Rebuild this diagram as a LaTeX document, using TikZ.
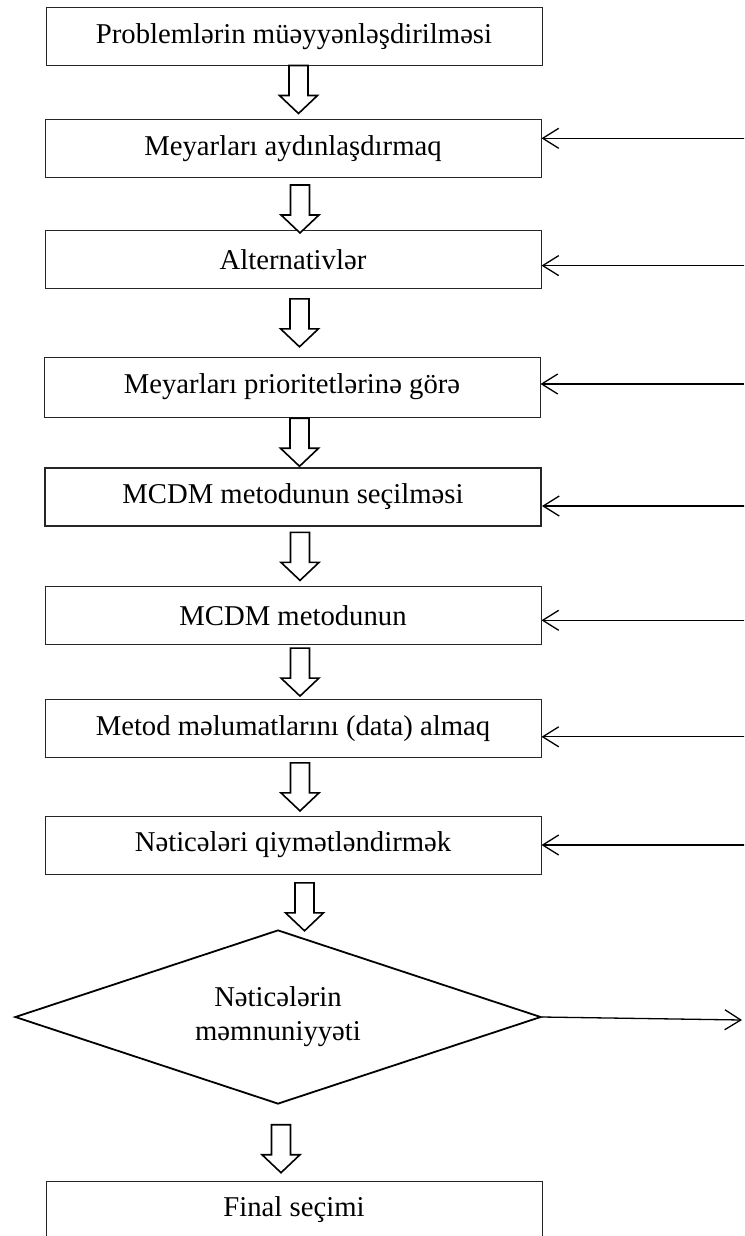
\documentclass[tikz,border=0pt]{standalone}
\usepackage{fontspec}
\setmainfont{Liberation Serif}
\usetikzlibrary{arrows.meta,calc,shapes.geometric}

\tikzset{
	box/.style={draw=black!85, line width=1pt, minimum width=496pt, minimum height=58pt, inner sep=0pt},
	karar/.style={draw, diamond, line width=1.8pt, minimum width=526pt, minimum height=174pt, shape aspect=3, inner sep=0pt, align=center},
	geri/.style={line width=1.3pt, {Straight Barb[length=16pt,width=20pt]}-},
	asagi/.pic={
		\draw[line width=1.6pt, fill=white]
			(-9.5,-24) -- (9.5,-24) -- (9.5,6) -- (19,6) -- (0,24) -- (-19,6) -- (-9.5,6) -- cycle;
	}
}

\begin{document}
\begin{tikzpicture}[x=1pt, y=-1pt, font=\fontsize{28.7}{34}\selectfont]
	\fill[white] (0,0) rectangle (744,1236);
	\useasboundingbox (0,0) rectangle (744,1236);
	\clip (0,0) rectangle (744,1236);

	\node[box] (problem) at (294,36.7) {Problemlərin müəyyənləşdirilməsi};
	\node[box] (meyar) at (293,148.3) {Meyarları aydınlaşdırmaq};
	\node[box] (altern) at (293,259.6) {Alternativlər};
	\node[box, minimum height=60pt] (prior) at (292,387) {Meyarları prioritetlərinə görə};
	\node[box, line width=2pt] (secim) at (293,497) {MCDM metodunun seçilməsi};
	\node[box] (metod) at (293,615.3) {MCDM metodunun};
	\node[box] (data) at (293,728.8) {Metod məlumatlarını (data) almaq};
	\node[box] (netice) at (293,845) {Nəticələri qiymətləndirmək};
	\node[karar] (memnun) at (278,1017) {Nəticələrin\\məmnuniyyəti};
	\node[box] (final) at (294,1210) {Final seçimi};

	% block arrows between the steps
	\foreach \a/\b/\dx/\dy in {problem/meyar/5/-3, meyar/altern/7/5, altern/prior/7/0,
		prior/secim/7/0, secim/metod/7/0, metod/data/7/0, data/netice/7/0,
		netice/memnun/19/5, memnun/final/-5/6}
		\pic at ($(\a.south)!0.5!(\b.north)+(\dx,\dy)$) {asagi};

	% feedback from the right
	\foreach \n/\dy in {meyar/-10, altern/6, prior/-3, secim/9, metod/5, data/8, netice/0}
		\draw[geri] ($(\n.east)+(0,\dy)$) -- ($(\n.east)+(203,\dy)$);

	\coordinate (cikis) at (742,1020);
	\draw[line width=1.3pt, -{Straight Barb[length=16pt,width=20pt]}] (memnun.east) -- (cikis);
\end{tikzpicture}
\end{document}
